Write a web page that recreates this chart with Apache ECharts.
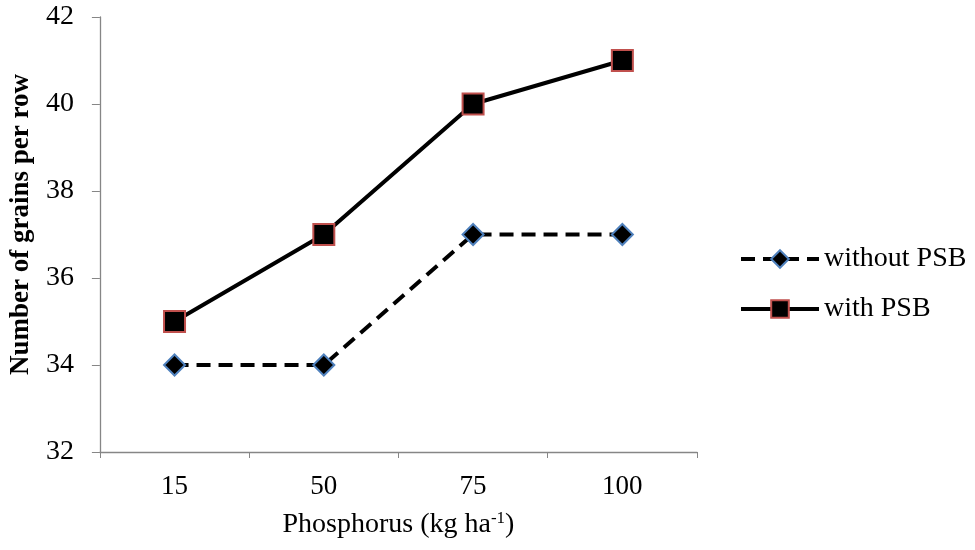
<!DOCTYPE html>
<html>
<head>
<meta charset="utf-8">
<script src="https://cdn.jsdelivr.net/npm/echarts@6/dist/echarts.min.js"></script>
<style>
html, body { margin: 0; padding: 0; background: #fff; }
#chart { width: 975px; height: 550px; }
</style>
</head>
<body>
<div id="chart"></div>
<script>
var categories = ['15', '50', '75', '100'];
var withoutPSB = [34, 34, 37, 37];
var withPSB = [35, 37, 40, 41];
var yTicks = { min: 32, max: 42, interval: 2 };

var chart = echarts.init(document.getElementById('chart'));
var serif = '"Liberation Serif", "Times New Roman", serif';
var axisColor = '#868686';

var option = {
    animation: false,
    textStyle: { fontFamily: serif },
    grid: {
        left: 97,
        right: 278,
        top: 17,
        bottom: 98
    },
    legend: {
        orient: 'vertical',
        left: 734,
        top: 240,
        itemWidth: 78,
        itemHeight: 22,
        itemGap: 22,
        lineStyle: { width: 4 },
        textStyle: { fontFamily: serif, fontSize: 28, color: '#000' },
        data: ['without PSB', 'with PSB']
    },
    xAxis: {
        type: 'category',
        data: categories,
        boundaryGap: true,
        axisLine: { lineStyle: { color: axisColor, width: 1.3 } },
        axisTick: { show: true, inside: false, length: 6, lineStyle: { color: axisColor } },
        axisLabel: { color: '#000', fontSize: 27, fontFamily: serif, margin: 21 },
        name: '{n|Phosphorus (kg ha}{s|-1}{n|)}',
        nameLocation: 'middle',
        nameGap: 58,
        nameTextStyle: {
            rich: {
                n: { fontFamily: serif, fontSize: 28, color: '#000' },
                s: { fontFamily: serif, fontSize: 17, color: '#000', verticalAlign: 'top', padding: [0, 0, 12, 0] }
            }
        }
    },
    yAxis: {
        type: 'value',
        min: yTicks.min,
        max: yTicks.max,
        interval: yTicks.interval,
        axisLine: { show: true, lineStyle: { color: axisColor, width: 1.3 } },
        axisTick: { show: true, inside: false, length: 8, lineStyle: { color: axisColor } },
        splitLine: { show: false },
        axisLabel: { color: '#000', fontSize: 28, fontFamily: serif, margin: 26 },
        name: 'Number of grains per row',
        nameLocation: 'middle',
        nameGap: 64,
        nameTextStyle: { fontFamily: serif, fontSize: 27, fontWeight: 'bold', color: '#000', padding: [0, 0, 0, 20] }
    },
    series: [{
            name: 'without PSB',
            type: 'line',
            data: withoutPSB,
            symbol: 'diamond',
            symbolSize: 21,
            lineStyle: { color: '#000', width: 4, type: [14, 8] },
            itemStyle: { color: '#000', borderColor: '#4f81bd', borderWidth: 2 }
        },
        {
            name: 'with PSB',
            type: 'line',
            data: withPSB,
            symbol: 'rect',
            symbolSize: 21,
            lineStyle: { color: '#000', width: 4 },
            itemStyle: { color: '#000', borderColor: '#c0504d', borderWidth: 2 }
        }
    ]
};
chart.setOption(option);
</script>
</body>
</html>
